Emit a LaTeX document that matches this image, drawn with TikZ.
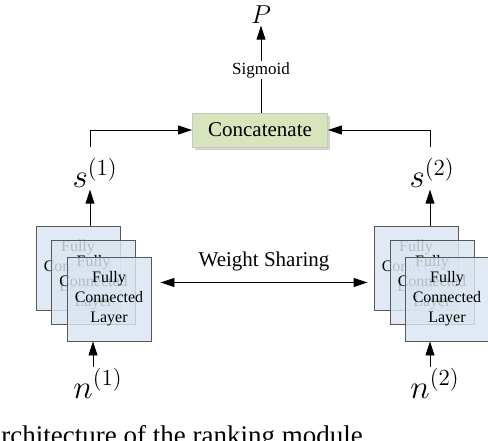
\documentclass[tikz,border=0pt]{standalone}
\usepackage{fontspec}
\setmainfont{Liberation Serif}
\usepackage{tikz}
\usetikzlibrary{arrows.meta,positioning,calc,shadows}
\definecolor{fcblue}{RGB}{219,229,241}
\definecolor{catgreen}{RGB}{215,228,188}
\definecolor{edgegray}{RGB}{89,89,89}
\newcommand{\fcl}{Fully\\Connected\\Layer}

\begin{document}
\begin{tikzpicture}[x=1pt,y=1pt,>={Triangle[length=14pt,width=9pt]},line width=0.9pt,
  fcbox/.style={draw=edgegray,fill=fcblue,fill opacity=0.82,text opacity=1,
    minimum width=84pt,minimum height=84pt,inner sep=0pt,align=center,
    font=\fontsize{16}{20}\selectfont},
  catbox/.style={draw=gray!45,fill=catgreen,minimum width=135pt,minimum height=34pt,
    font=\fontsize{21}{24}\selectfont,
    drop shadow={shadow xshift=2pt,shadow yshift=-3pt,opacity=0.35}},
  mathlbl/.style={font=\fontsize{20}{24}\selectfont,scale=1.6,inner sep=0.6pt,anchor=base}]
  \useasboundingbox (0,0) rectangle (488,440);

  % output
  \node[font=\fontsize{20}{24}\selectfont,scale=1.25,inner sep=1pt] (p) at (261,425) {$P$};
  \node[catbox] (concat) at (260,310) {Concatenate};
  \node[font=\fontsize{17}{20}\selectfont,inner sep=1pt] (sig) at (261,370) {Sigmoid};
  \draw (concat.north -| sig) -- (sig.south);
  \draw[->] (sig.north) -- (p.south);

  % left branch
  \node[fcbox] (la) at (78,172) {\fcl};
  \node[fcbox] (lb) at (93.5,157.5) {\fcl};
  \node[fcbox] (lc) at (109,141) {\fcl};
  \node[mathlbl] (s1) at (95,252) {$s^{(1)}$};
  \node[mathlbl] (n1) at (98,42) {$n^{(1)}$};
  \coordinate (s1top) at ([yshift=10pt]s1.north);
  \draw[->] ([xshift=12pt]la.north) -- ([xshift=12pt]la.north |- s1.south);
  \draw[->] ([xshift=-16pt]lc.south |- n1.north) -- ([xshift=-16pt]lc.south);
  \draw[->] ([xshift=12pt]la.north |- s1top) |- (concat.west);

  % right branch
  \node[fcbox] (ra) at (416,172) {\fcl};
  \node[fcbox] (rb) at (432,157.5) {\fcl};
  \node[fcbox] (rc) at (447,141) {\fcl};
  \node[mathlbl] (s2) at (432,252) {$s^{(2)}$};
  \node[mathlbl] (n2) at (435,42) {$n^{(2)}$};
  \coordinate (s2top) at ([yshift=10pt]s2.north);
  \draw[->] ([xshift=14pt]ra.north) -- ([xshift=14pt]ra.north |- s2.south);
  \draw[->] ([xshift=-17pt]rc.south |- n2.north) -- ([xshift=-17pt]rc.south);
  \draw[->] ([xshift=14pt]ra.north |- s2top) |- (concat.east);

  % shared weights
  \coordinate (wl) at ([xshift=9pt]lc.east |- lb.east);
  \coordinate (wr) at ([xshift=-6pt]ra.west |- lb.east);
  \draw[<->] (wl) -- (wr) node[midway,above=8pt,font=\fontsize{21}{24}\selectfont] (ws) {Weight Sharing};

  \node[anchor=base west,inner sep=0pt,font=\fontsize{27}{30}\selectfont] (cap) at (1,-4) {rchitecture of the ranking module};
\end{tikzpicture}
\end{document}
